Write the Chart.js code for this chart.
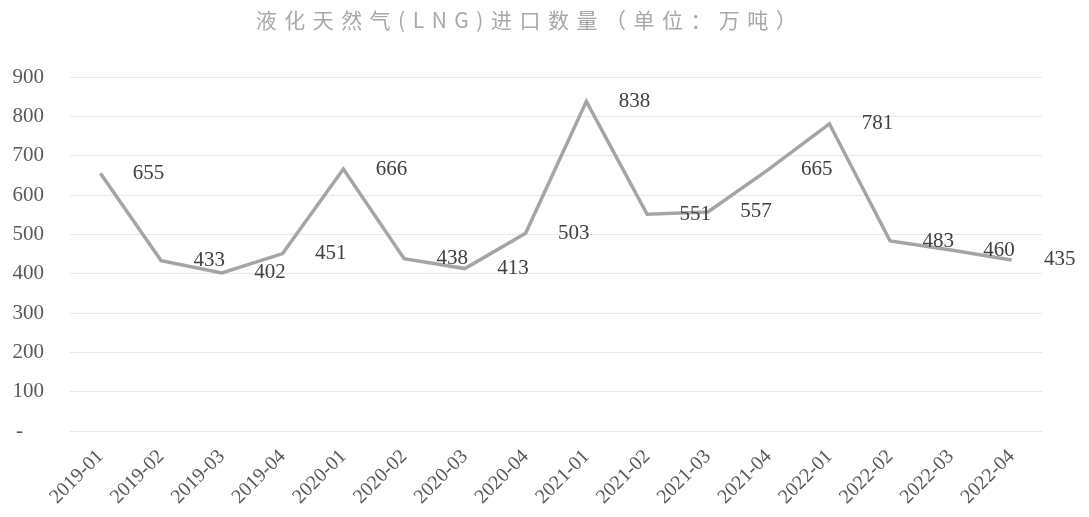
<!DOCTYPE html>
<html>
<head>
<meta charset="utf-8">
<script src="https://cdn.jsdelivr.net/npm/chart.js@4"></script>
<style>
  html, body { margin: 0; padding: 0; background: #fff; }
  #wrap { width: 1089px; height: 517px; }
</style>
</head>
<body>
<div id="wrap"><canvas id="lngChart"></canvas></div>
<script>
// data
let chartTitle = '液化天然气(LNG)进口数量（单位：万吨）';
let months = ['2019-01', '2019-02', '2019-03', '2019-04', '2020-01', '2020-02', '2020-03', '2020-04',
  '2021-01', '2021-02', '2021-03', '2021-04', '2022-01', '2022-02', '2022-03', '2022-04'];
let lngImports = [655, 433, 402, 451, 666, 438, 413, 503, 838, 551, 557, 665, 781, 483, 460, 435];
let yTicks = [0, 100, 200, 300, 400, 500, 600, 700, 800, 900];

let serif = '"Liberation Serif", "Times New Roman", serif';

// value labels sit to the right of each point, like the excel chart
let valueLabels = {
  id: 'valueLabels',
  afterDatasetsDraw(chart) {
    let ctx = chart.ctx;
    let meta = chart.getDatasetMeta(0);
    ctx.save();
    ctx.font = '21px ' + serif;
    ctx.fillStyle = '#404040';
    ctx.textAlign = 'center';
    ctx.textBaseline = 'middle';
    meta.data.forEach(function (pt, i) {
      ctx.fillText(String(lngImports[i]), pt.x + 48, pt.y);
    });
    ctx.restore();
  }
};

// title drawn by hand so it can get the wide letter spacing
let spacedTitle = {
  id: 'spacedTitle',
  afterDraw(chart) {
    let ctx = chart.ctx;
    ctx.save();
    ctx.font = '21px "Noto Sans CJK SC", sans-serif';
    ctx.fillStyle = '#a8a8a8';
    ctx.letterSpacing = '7.5px';
    ctx.textAlign = 'center';
    ctx.textBaseline = 'middle';
    ctx.fillText(chartTitle, 530, 20);
    ctx.restore();
  }
};

let lngChart = new Chart(document.getElementById('lngChart'), {
  type: 'line',
  data: {
    labels: months,
    datasets: [{
      data: lngImports,
      borderColor: '#a5a5a5',
      borderWidth: 3.5,
      pointRadius: 0,
      tension: 0,
      fill: false
    }]
  },
  options: {
    responsive: true,
    maintainAspectRatio: false,
    animation: false,
    layout: { padding: { top: 77, right: 47, left: 0, bottom: 0 } },
    plugins: {
      legend: { display: false },
      title: { display: false },
      tooltip: { enabled: false }
    },
    scales: {
      x: {
        offset: true,
        grid: { display: false },
        border: { display: false },
        ticks: {
          color: '#595959',
          font: { family: serif, size: 20 },
          minRotation: 45,
          maxRotation: 45,
          padding: 6
        },
        afterFit(scale) { scale.height = 86; }
      },
      y: {
        min: 0,
        max: 900,
        afterBuildTicks(scale) {
          scale.ticks = yTicks.map(function (v) { return { value: v }; });
        },
        border: { display: false },
        grid: {
          color: '#e8e8e8',
          lineWidth: 1,
          drawTicks: false
        },
        ticks: {
          color: '#595959',
          font: { family: serif, size: 21 },
          padding: 26,
          callback: function (v) { return v === 0 ? '-    ' : v; }
        },
        afterFit(scale) { scale.width = 70; }
      }
    }
  },
  plugins: [valueLabels, spacedTitle]
});
</script>
</body>
</html>
